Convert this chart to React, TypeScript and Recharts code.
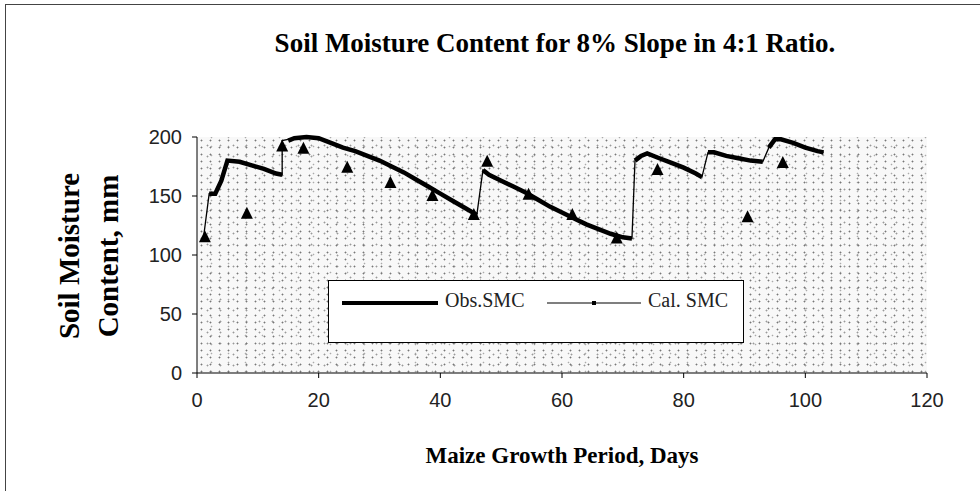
import React from 'react';
import { ComposedChart, Line, Scatter, XAxis, YAxis } from 'recharts';

// Thick observed curve segments (null breaks the line at the jumps)
const obsDays: number[] = [2, 3, 4, 5, 7, 9, 11, 13, 14, 14, 15, 16, 18, 20, 22, 24, 26, 28, 30, 32, 34, 36, 38, 40, 42, 44, 46, 46, 47, 48, 50, 52, 54, 56, 58, 60, 62, 64, 66, 68, 70, 71.5, 71.5, 72, 73, 74, 76, 78, 80, 82, 83, 83, 84, 85, 87, 89, 91, 93, 93, 94, 95, 96, 98, 100, 102, 103];
const obsValues: (number | null)[] = [152, 152, 163, 180, 179, 176, 173, 169, 168, null, 197, 199, 200, 199, 195, 191, 188, 184, 180, 175, 170, 164, 158, 152, 146, 140, 134, null, 172, 168, 163, 158, 153, 147, 141, 136, 131, 126, 122, 118, 115, 114, null, 180, 184, 186, 182, 178, 174, 169, 166, null, 187, 187, 184, 182, 180, 179, null, 191, 198, 198, 195, 191, 188, 187];

// Thin calculated curve (continuous, including the jumps)
const calDays: number[] = [1, 2, 3, 4, 5, 7, 9, 11, 13, 14, 14, 16, 18, 20, 22, 24, 26, 28, 30, 32, 34, 36, 38, 40, 42, 44, 46, 47, 48, 50, 52, 54, 56, 58, 60, 62, 64, 66, 68, 70, 71.5, 72, 73, 74, 76, 78, 80, 82, 83, 84, 85, 87, 89, 91, 93, 94, 95, 96, 98, 100, 102, 103];
const calValues: number[] = [112, 152, 152, 163, 180, 179, 176, 173, 169, 168, 197, 199, 200, 199, 195, 191, 188, 184, 180, 175, 170, 164, 158, 152, 146, 140, 134, 172, 168, 163, 158, 153, 147, 141, 136, 131, 126, 122, 118, 115, 114, 180, 184, 186, 182, 178, 174, 169, 166, 187, 187, 184, 182, 180, 179, 191, 198, 198, 195, 191, 188, 187];

// Measured points (triangles)
const ptDays: number[] = [1.3, 8.2, 14, 17.5, 24.7, 31.8, 38.7, 45.5, 47.7, 54.5, 61.7, 69, 75.7, 90.5, 96.3];
const ptValues: number[] = [115, 135, 192, 190, 174, 161, 150, 134, 179, 151, 134, 114, 172, 132, 178];

const xTicks = [0, 20, 40, 60, 80, 100, 120];
const yTicks = [0, 50, 100, 150, 200];

const obsData = obsDays.map((d, i) => ({ d, v: obsValues[i] }));
const calData = calDays.map((d, i) => ({ d, v: calValues[i] }));
const ptData = ptDays.map((d, i) => ({ d, v: ptValues[i] }));

const serif = '"Liberation Serif", "Times New Roman", serif';
const sans = '"Liberation Sans", Arial, sans-serif';

const Tri = (props: any) => {
  const { cx, cy } = props;
  if (cx == null || cy == null) return null;
  return <path d={`M${cx},${cy - 7} L${cx + 6},${cy + 5} L${cx - 6},${cy + 5} Z`} fill="#000" />;
};

const stipple =
  'radial-gradient(circle, #777 0.7px, transparent 1.2px) 0px 0px / 9px 7px, ' +
  'radial-gradient(circle, #999 0.7px, transparent 1.2px) 4px 3px / 13px 11px, ' +
  'radial-gradient(circle, #aaa 0.7px, transparent 1.1px) 6px 5px / 17px 9px, #f8f8f8';

export default function App() {
  return (
    <div style={{ position: 'absolute', left: 0, top: 0, width: 980, height: 491, background: '#fff', overflow: 'hidden' }}>
      <div style={{ position: 'absolute', left: 5, top: 4, width: 990, height: 500, borderLeft: '1px solid #444', borderTop: '1px solid #444' }} />
      <div style={{ position: 'absolute', left: 197, top: 137, width: 730, height: 236, background: stipple }} />
      <div style={{ position: 'absolute', left: 0, top: 0 }}>
        <ComposedChart width={980} height={491} margin={{ top: 137, right: 53, bottom: 88, left: 137 }}>
          <XAxis
            type="number"
            dataKey="d"
            domain={[0, 120]}
            ticks={xTicks}
            interval={0}
            allowDataOverflow
            stroke="#000"
            tickSize={5}
            tickMargin={15}
            height={30}
            tick={{ fill: '#222', fontFamily: sans, fontSize: 20 }}
            tickLine={{ stroke: '#000' }}
          />
          <YAxis
            type="number"
            dataKey="v"
            domain={[0, 200]}
            ticks={yTicks}
            interval={0}
            stroke="#000"
            width={60}
            tickSize={5}
            tickMargin={10}
            tick={{ fill: '#222', fontFamily: sans, fontSize: 20 }}
            tickLine={{ stroke: '#000' }}
          />
          <Line data={calData} dataKey="v" type="linear" stroke="#000" strokeWidth={1.3} dot={false} isAnimationActive={false} />
          <Line data={obsData} dataKey="v" type="linear" stroke="#000" strokeWidth={4.5} dot={false} connectNulls={false} isAnimationActive={false} />
          <Scatter data={ptData} dataKey="v" shape={<Tri />} isAnimationActive={false} />
        </ComposedChart>
      </div>
      <div style={{ position: 'absolute', left: 190, width: 730, top: 28, textAlign: 'center', fontFamily: serif, fontWeight: 'bold', fontSize: 27, color: '#000', whiteSpace: 'nowrap' }}>
        Soil Moisture Content for 8% Slope in 4:1 Ratio.
      </div>
      <div style={{ position: 'absolute', left: 197, width: 730, top: 443, textAlign: 'center', fontFamily: serif, fontWeight: 'bold', fontSize: 23, color: '#000', whiteSpace: 'nowrap' }}>
        Maize Growth Period, Days
      </div>
      <div style={{ position: 'absolute', left: 89, top: 256, width: 0, height: 0 }}>
        <div style={{ position: 'absolute', left: -150, top: -39, width: 300, transform: 'rotate(-90deg)', textAlign: 'center', fontFamily: serif, fontWeight: 'bold', fontSize: 29, lineHeight: '39px', color: '#000', whiteSpace: 'nowrap' }}>
          Soil Moisture<br />Content, mm
        </div>
      </div>
      <div style={{ position: 'absolute', left: 328, top: 280, width: 416, height: 63, border: '1.5px solid #000', background: '#fff', boxSizing: 'border-box' }}>
        <svg width={100} height={10} style={{ position: 'absolute', left: 13, top: 17 }}>
          <line x1={0} y1={5} x2={96} y2={5} stroke="#000" strokeWidth={4} />
        </svg>
        <span style={{ position: 'absolute', left: 116, top: 8, fontFamily: serif, fontSize: 20, color: '#222', whiteSpace: 'nowrap' }}>Obs.SMC</span>
        <svg width={100} height={10} style={{ position: 'absolute', left: 218, top: 17 }}>
          <line x1={0} y1={5} x2={94} y2={5} stroke="#000" strokeWidth={1.2} />
          <rect x={45} y={3} width={4} height={4} fill="#000" />
        </svg>
        <span style={{ position: 'absolute', left: 319, top: 8, fontFamily: serif, fontSize: 20, color: '#222', whiteSpace: 'nowrap' }}>Cal. SMC</span>
      </div>
    </div>
  );
}
